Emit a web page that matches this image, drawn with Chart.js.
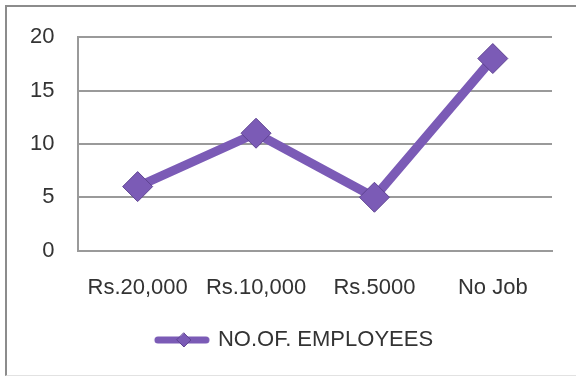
<!DOCTYPE html>
<html>
<head>
<meta charset="utf-8">
<script src="https://cdn.jsdelivr.net/npm/chart.js@4.4.0/dist/chart.umd.min.js"></script>
<style>
  html, body { margin: 0; padding: 0; background: #fff; }
  #frame {
    position: absolute; left: 5px; top: 5px; width: 620px; height: 368px;
    border-left: 2px solid #8c8c8c; border-top: 2px solid #8c8c8c;
    border-bottom: 1px solid #e2e2e2;
  }
  #wrap { position: absolute; left: 0; top: 0; width: 576px; height: 378px; }
</style>
</head>
<body>
<div id="frame"></div>
<div id="wrap"><canvas id="chart" width="576" height="378"></canvas></div>
<script>
const salaryGroups = ["Rs.20,000", "Rs.10,000", "Rs.5000", "No Job"]
const employees = [6, 11, 5, 18]
const seriesName = "NO.OF. EMPLOYEES"

const purple = "#7b5bb6"
const purpleDark = "#5e4391"

// line-with-diamond picture for the legend entry, drawn in the right part
// of a wider canvas so the whole entry sits a bit to the right
const legendIcon = () => {
    const c = document.createElement("canvas")
    c.width = 88
    c.height = 16
    const g = c.getContext("2d")
    const ox = 32
    g.strokeStyle = purple
    g.lineWidth = 7
    g.lineCap = "round"
    g.beginPath()
    g.moveTo(ox + 4, 8)
    g.lineTo(ox + 52, 8)
    g.stroke()
    g.fillStyle = purple
    g.strokeStyle = purpleDark
    g.lineWidth = 1
    g.beginPath()
    g.moveTo(ox + 30, 1)
    g.lineTo(ox + 37, 8)
    g.lineTo(ox + 30, 15)
    g.lineTo(ox + 23, 8)
    g.closePath()
    g.fill()
    g.stroke()
    return c
}

const font = {family: "'Liberation Sans', Arial, sans-serif", size: 22}

new Chart(document.getElementById("chart"), {
    type: "line",
    data: {
        labels: salaryGroups,
        datasets: [{
            label: seriesName,
            data: employees,
            borderColor: purple,
            borderWidth: 9,
            tension: 0,
            pointStyle: "rectRot",
            pointRadius: 15,
            pointHoverRadius: 15,
            pointBackgroundColor: purple,
            pointBorderColor: purpleDark,
            pointBorderWidth: 1
        }]
    },
    options: {
        responsive: false,
        animation: false,
        layout: {padding: {left: 6, right: 24, top: 24, bottom: 17}},
        scales: {
            x: {
                offset: true,
                grid: {display: false, drawTicks: false},
                border: {display: true, color: "#9a9a9a", width: 2},
                ticks: {color: "#333", font: font, padding: 24, maxRotation: 0}
            },
            y: {
                min: 0,
                max: 20,
                grid: {color: "#9a9a9a", lineWidth: 2, drawTicks: false},
                border: {display: true, color: "#9a9a9a", width: 2},
                ticks: {stepSize: 5, color: "#333", font: font, padding: 24}
            }
        },
        plugins: {
            tooltip: {enabled: false},
            legend: {
                position: "bottom",
                labels: {
                    usePointStyle: true,
                    pointStyle: legendIcon(),
                    pointStyleWidth: 82,
                    color: "#333",
                    font: {family: font.family, size: 22},
                    padding: 4
                }
            }
        }
    }
})
</script>
</body>
</html>
